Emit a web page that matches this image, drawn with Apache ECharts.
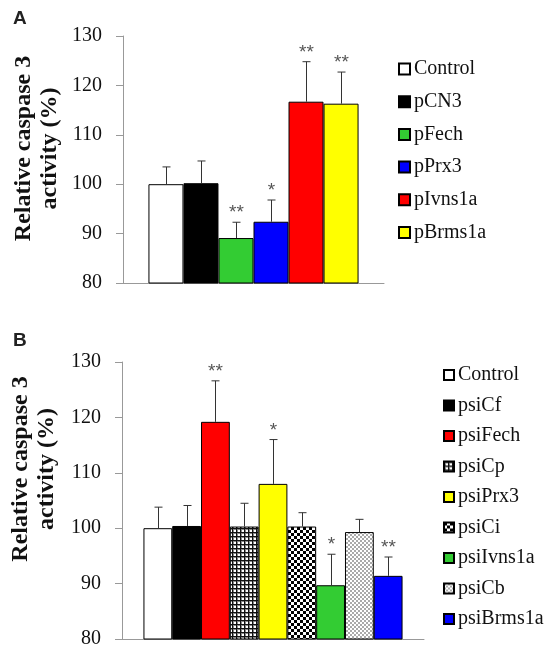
<!DOCTYPE html>
<html>
<head>
<meta charset="utf-8">
<script src="https://cdn.jsdelivr.net/npm/echarts@6/dist/echarts.min.js"></script>
<style>
html,body{margin:0;padding:0;background:#fff;}
#a{position:absolute;left:0;top:0;width:551px;height:320px;}
#b{position:absolute;left:0;top:320px;width:551px;height:334px;}
</style>
</head>
<body>
<div id="a"></div>
<div id="b"></div>
<script>
// ---- Data ----
const yTicks = [80, 90, 100, 110, 120, 130];

const namesA = ['Control', 'pCN3', 'pFech', 'pPrx3', 'pIvns1a', 'pBrms1a'];
const meansA = [100, 100.2, 89.1, 92.4, 116.7, 116.3];
const errA   = [3.5, 4.5, 3.2, 4.4, 8.1, 6.4];
const sigA   = ['', '', '**', '*', '**', '**'];

const namesB = ['Control', 'psiCf', 'psiFech', 'psiCp', 'psiPrx3', 'psiCi', 'psiIvns1a', 'psiCb', 'psiBrms1a'];
const meansB = [100, 100.4, 119.2, 100.3, 108.0, 100.3, 89.7, 99.3, 91.4];
const errB   = [3.8, 3.7, 7.4, 4.2, 8.0, 2.5, 5.6, 2.3, 3.4];
const sigB   = ['', '', '**', '', '*', '', '*', '', '**'];

// ---- Styles ----
function makePattern(kind) {
  const c = document.createElement('canvas');
  const ctx = c.getContext('2d');
  if (kind === 'grid') {
    c.width = 4; c.height = 4;
    ctx.fillStyle = '#fff'; ctx.fillRect(0, 0, 4, 4);
    ctx.fillStyle = '#888'; ctx.fillRect(0, 0, 4, 2); ctx.fillRect(0, 0, 2, 4);
    ctx.fillStyle = '#111'; ctx.fillRect(0, 0, 4, 1); ctx.fillRect(0, 0, 1, 4);
  } else if (kind === 'checker') {
    c.width = 6; c.height = 6;
    ctx.fillStyle = '#fff'; ctx.fillRect(0, 0, 6, 6);
    ctx.fillStyle = '#000'; ctx.fillRect(0, 0, 3, 3); ctx.fillRect(3, 3, 3, 3);
  } else {
    c.width = 4; c.height = 4;
    ctx.fillStyle = '#fff'; ctx.fillRect(0, 0, 4, 4);
    ctx.fillStyle = '#aaa'; ctx.fillRect(0, 0, 2, 2); ctx.fillRect(2, 2, 2, 2);
  }
  return { image: c, repeat: 'repeat' };
}
const colorsA = ['#ffffff', '#000000', '#33cc33', '#0000ff', '#ff0000', '#ffff00'];
const colorsB = ['#ffffff', '#000000', '#ff0000', makePattern('grid'), '#ffff00',
                 makePattern('checker'), '#33cc33', makePattern('dots'), '#0000ff'];

const SERIF = '"Liberation Serif", "Times New Roman", serif';
const SANS = '"Liberation Sans", Arial, sans-serif';
const AXIS_GRAY = '#999';

function buildOption(cfg) {
  const n = cfg.names.length;
  const gapFrac = cfg.gapFrac;
  const series = cfg.names.map((nm, i) => ({
    name: nm,
    type: 'bar',
    data: [cfg.means[i]],
    barGap: '0%',
    barCategoryGap: (gapFrac * 100) + '%',
    itemStyle: { color: cfg.colors[i], borderColor: '#000', borderWidth: 1 },
    emphasis: { disabled: true },
    animation: false
  }));
  series.push({
    type: 'custom',
    clip: false,
    z: 5,
    animation: false,
    data: cfg.means.map((m, i) => [0, m, cfg.errs[i]]),
    renderItem: function (params, api) {
      const i = params.dataIndex;
      const band = api.size([1, 0])[0];
      const bw = band * (1 - gapFrac) / n;
      const base = api.coord([0, api.value(1)]);
      const x = Math.round(base[0] + (i - (n - 1) / 2) * bw) + 0.5;
      const yTop = api.coord([0, api.value(1) + api.value(2)])[1];
      const lineStyle = { stroke: '#333', lineWidth: 1 };
      return {
        type: 'group',
        children: [
          { type: 'line', shape: { x1: x, y1: base[1], x2: x, y2: yTop }, style: lineStyle },
          { type: 'line', shape: { x1: x - 4, y1: yTop, x2: x + 4, y2: yTop }, style: lineStyle },
          { type: 'text', x: x, y: yTop - 9,
            style: { text: cfg.sig[i], fill: '#555', font: '19px ' + SANS,
                     align: 'center', verticalAlign: 'middle' } }
        ]
      };
    }
  });
  return {
    animation: false,
    title: {
      text: cfg.panel, left: 8, top: cfg.titleTop,
      textStyle: { fontFamily: SANS, fontWeight: 'bold', fontSize: 19, color: '#222' }
    },
    grid: { left: cfg.grid.left, top: cfg.grid.top, width: cfg.grid.width, height: cfg.grid.height },
    legend: {
      data: cfg.names,
      orient: 'vertical',
      left: cfg.legend.left,
      top: cfg.legend.top,
      itemWidth: cfg.legend.icon,
      itemHeight: cfg.legend.icon,
      itemGap: cfg.legend.gap,
      icon: 'rect',
      selectedMode: false,
      textStyle: { fontFamily: SERIF, fontSize: 20, color: '#111', lineHeight: 20, padding: [0, 0, 0, -1] }
    },
    xAxis: {
      type: 'category',
      data: [''],
      axisLine: { lineStyle: { color: AXIS_GRAY, width: 1 } },
      axisTick: { show: false },
      axisLabel: { show: false }
    },
    yAxis: {
      type: 'value',
      min: yTicks[0],
      max: yTicks[yTicks.length - 1],
      interval: yTicks[1] - yTicks[0],
      splitLine: { show: false },
      axisLine: { show: true, lineStyle: { color: AXIS_GRAY, width: 1 } },
      axisTick: { show: true, length: 7, lineStyle: { color: AXIS_GRAY } },
      axisLabel: { margin: 21, fontFamily: SERIF, fontSize: 20, color: '#111' },
      name: 'Relative caspase 3\nactivity (%)',
      nameLocation: 'middle',
      nameGap: cfg.nameGap,
      nameTextStyle: {
        fontFamily: SERIF, fontWeight: 'bold', fontSize: 24, color: '#111',
        lineHeight: 26, padding: [0, 0, 0, cfg.namePad]
      }
    },
    series: series
  };
}

const chartA = echarts.init(document.getElementById('a'), null, { renderer: 'canvas' });
chartA.setOption(buildOption({
  panel: 'A', names: namesA, means: meansA, errs: errA, sig: sigA, colors: colorsA,
  gapFrac: 0.195, titleTop: 4,
  grid: { left: 123, top: 36, width: 261, height: 247 },
  legend: { left: 393, top: 54, icon: 11, gap: 12.7 },
  nameGap: 60, namePad: 22
}));

const chartB = echarts.init(document.getElementById('b'), null, { renderer: 'canvas' });
chartB.setOption(buildOption({
  panel: 'B', names: namesB, means: meansB, errs: errB, sig: sigB, colors: colorsB,
  gapFrac: 0.142, titleTop: 6,
  grid: { left: 122, top: 42, width: 302, height: 277 },
  legend: { left: 438, top: 40, icon: 10, gap: 10.5 },
  nameGap: 60, namePad: 63
}));
</script>
</body>
</html>
